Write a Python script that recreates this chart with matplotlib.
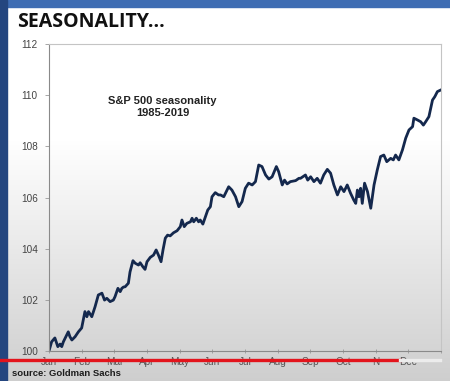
import numpy as np
import matplotlib
matplotlib.use("Agg")
import matplotlib.pyplot as plt
from matplotlib.patches import Rectangle

# position in the year (0 = start of Jan, 12 = end of Dec) and index level
year_pos = [0.00, 0.08, 0.18, 0.27, 0.34, 0.39, 0.44, 0.59, 0.64, 0.70, 0.80, 0.90,
            1.00, 1.05, 1.10, 1.16, 1.21, 1.31, 1.41, 1.51, 1.62, 1.70, 1.77, 1.87,
            1.97, 2.02, 2.11, 2.18, 2.23, 2.28, 2.33, 2.43, 2.48, 2.57, 2.64, 2.74,
            2.79, 2.87, 2.94, 3.00, 3.10, 3.20, 3.28, 3.35, 3.43, 3.49, 3.56, 3.63,
            3.71, 3.81, 3.92, 4.02, 4.07, 4.14, 4.22, 4.33, 4.38, 4.43, 4.51, 4.58,
            4.63, 4.71, 4.79, 4.86, 4.94, 4.99, 5.09, 5.19, 5.25, 5.35, 5.50, 5.60,
            5.71, 5.81, 5.91, 6.01, 6.11, 6.22, 6.32, 6.42, 6.52, 6.63, 6.73, 6.83,
            6.96, 7.03, 7.14, 7.21, 7.29, 7.39, 7.55, 7.65, 7.70, 7.85, 7.92, 8.01,
            8.11, 8.21, 8.31, 8.41, 8.52, 8.62, 8.72, 8.83, 8.93, 9.03, 9.13, 9.23,
            9.33, 9.39, 9.44, 9.49, 9.54, 9.59, 9.66, 9.75, 9.85, 9.95, 10.05, 10.15,
            10.25, 10.34, 10.46, 10.54, 10.61, 10.71, 10.82, 10.92, 11.02, 11.13, 11.17, 11.28,
            11.38, 11.46, 11.53, 11.63, 11.74, 11.81, 11.89, 11.99]
spx_index = [100.00, 100.36, 100.51, 100.17, 100.27, 100.17, 100.36, 100.75, 100.56, 100.43, 100.56, 100.75,
             100.90, 101.21, 101.54, 101.34, 101.54, 101.34, 101.73, 102.19, 102.26, 101.99, 102.06, 101.93,
             101.99, 102.12, 102.45, 102.32, 102.45, 102.50, 102.51, 102.65, 103.09, 103.53, 103.43, 103.36,
             103.45, 103.30, 103.19, 103.49, 103.66, 103.75, 103.95, 103.75, 103.49, 103.95, 104.41, 104.53,
             104.50, 104.62, 104.70, 104.86, 105.12, 104.86, 104.99, 105.05, 105.19, 105.05, 105.19, 105.05,
             105.12, 104.96, 105.25, 105.51, 105.64, 106.03, 106.19, 106.10, 106.10, 106.03, 106.42, 106.29,
             106.03, 105.64, 105.84, 106.36, 106.56, 106.49, 106.62, 107.27, 107.21, 106.88, 106.72, 106.81,
             107.21, 107.01, 106.49, 106.68, 106.53, 106.62, 106.66, 106.75, 106.75, 106.88, 106.68, 106.81,
             106.62, 106.75, 106.56, 106.88, 107.10, 106.95, 106.49, 106.10, 106.42, 106.23, 106.49, 106.17,
             105.90, 105.77, 106.29, 106.03, 106.36, 105.77, 106.56, 106.23, 105.58, 106.49, 107.08, 107.60,
             107.66, 107.40, 107.53, 107.47, 107.66, 107.47, 107.86, 108.32, 108.64, 108.77, 109.10, 109.03,
             108.96, 108.83, 108.96, 109.16, 109.81, 109.94, 110.14, 110.20]
months = ["Jan", "Feb", "Mar", "Apr", "May", "Jun", "Jul", "Aug", "Sep", "Oct", "N", "Dec"]
y_ticks = [100, 102, 104, 106, 108, 110, 112]

fig = plt.figure(figsize=(4.5, 3.81), dpi=100)

# slide background: white fading to grey, plus the blue frame
bg = fig.add_axes([0, 0, 1, 1], zorder=-5)
rows = np.arange(381)
shade = np.where(rows < 140, 1.0, 1.0 - 0.19 * (rows - 140) / 240.0)
img = np.repeat(shade[:, None, None], 3, axis=2)
bg.imshow(img, aspect="auto", extent=[0, 450, 381, 0])
bg.set_xlim(0, 450)
bg.set_ylim(381, 0)
bg.axis("off")
bg.add_patch(Rectangle((0, 0), 450, 7, color="#3f6db3"))
bg.add_patch(Rectangle((0, 0), 7, 381, color="#24467f"))

ax = fig.add_axes([49 / 450, 1 - 351 / 381, 392 / 450, 307 / 381])
ax.set_facecolor("none")
ax.plot(year_pos, spx_index, color="#14284d", lw=2.0, solid_joinstyle="round")
ax.set_xlim(0, 12)
ax.set_ylim(100, 112)
ax.set_yticks(y_ticks)
ax.set_yticklabels([str(v) for v in y_ticks], fontsize=7.2, color="#444444",
                   family="Liberation Sans")
ax.set_xticks(range(12))
ax.set_xticklabels(months, fontsize=7.2, color="#555555", family="Liberation Sans")
ax.set_xticks(range(13), minor=True)
ax.tick_params(axis="y", length=3, width=0.6, color="#999999", pad=5)
ax.tick_params(axis="x", which="both", length=3, width=0.6, color="#999999",
               direction="inout", pad=3)
for side in ["left", "bottom"]:
    ax.spines[side].set_color("#8a8a8a")
    ax.spines[side].set_linewidth(0.8)
for side in ["top", "right"]:
    ax.spines[side].set_color("#c4c4c4")
    ax.spines[side].set_linewidth(0.8)

ax.text(0.29, 0.795, "S&P 500 seasonality\n1985-2019", transform=ax.transAxes,
        ha="center", va="center", fontsize=8, fontweight="bold",
        family="Liberation Sans", color="#222222", linespacing=1.2)

fig.text(17 / 450, 1 - 22 / 381, "SEASONALITY...", fontsize=14, fontweight="bold",
         family="Open Sans", color="#111111", va="center", ha="left")
fig.text(12 / 450, 1 - 373 / 381, "source: Goldman Sachs", fontsize=6.8, fontweight="bold",
         family="Liberation Sans", color="#1c1c1c", va="center", ha="left")

# video progress bar across the bottom, drawn over the month labels
bar = fig.add_axes([0, 0, 1, 1], zorder=10)
bar.set_xlim(0, 450)
bar.set_ylim(381, 0)
bar.axis("off")
bar.plot([0, 400], [360, 360], color="#e3141c", lw=2.4)
bar.plot([400, 440], [360, 360], color="#ececec", lw=2.4)

fig.savefig("out.png", dpi=100)
